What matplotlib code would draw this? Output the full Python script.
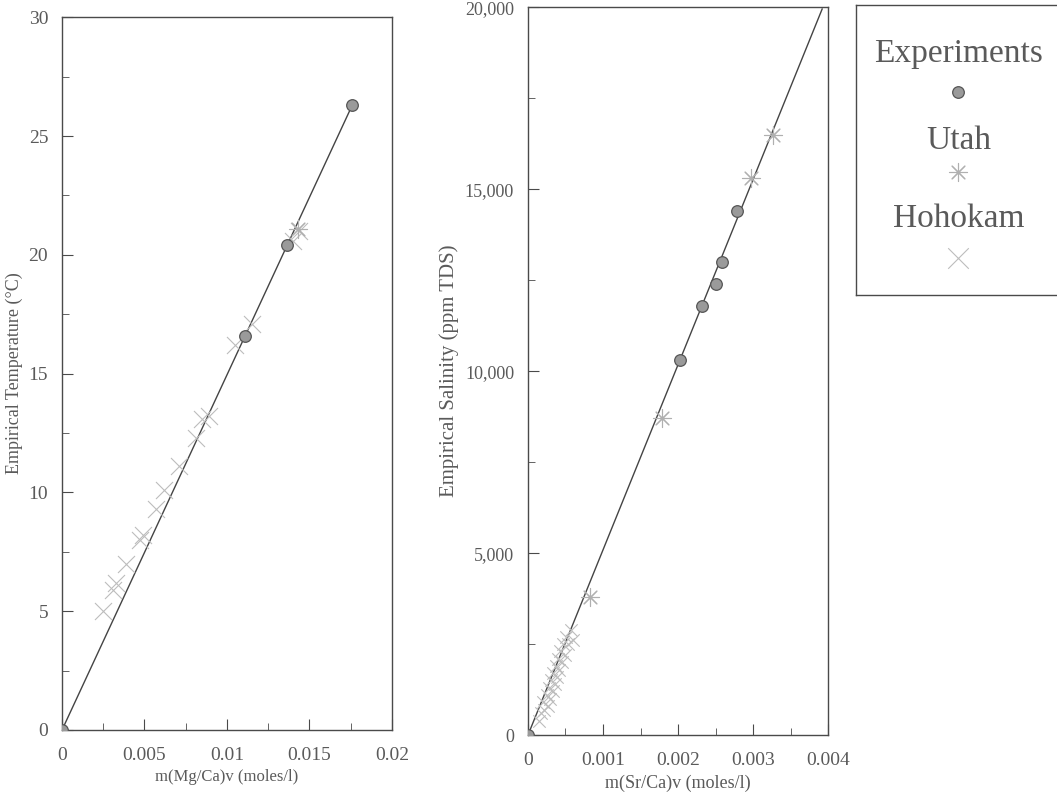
import matplotlib.pyplot as plt
import matplotlib.ticker as mticker

plt.rcParams['font.family'] = ['Liberation Serif', 'DejaVu Serif']

# --- Dados: painel esquerdo (Mg/Ca vs temperatura) ---
exp_mg_x = [0.0, 0.0111, 0.01365, 0.0176]
exp_mg_y = [0.0, 16.6, 20.4, 26.3]
utah_mg_x = [0.0143]
utah_mg_y = [21.1]
hoh_mg_x = [0.0025, 0.0031, 0.0033, 0.0039, 0.0047, 0.0049, 0.0057, 0.0062,
            0.0071, 0.0081, 0.0085, 0.0089, 0.0105, 0.0115, 0.0140, 0.0144]
hoh_mg_y = [5.0, 5.9, 6.2, 7.0, 8.0, 8.2, 9.3, 10.1,
            11.1, 12.3, 13.1, 13.2, 16.2, 17.1, 20.6, 21.0]
fit_mg_x = [0.0, 0.0176]
fit_mg_y = [0.0, 26.3]

# --- Dados: painel direito (Sr/Ca vs salinidade) ---
exp_sr_x = [0.0, 0.00203, 0.00232, 0.0025, 0.00259, 0.00278]
exp_sr_y = [0.0, 10300, 11800, 12400, 13000, 14400]
utah_sr_x = [0.00082, 0.00178, 0.00297, 0.00327]
utah_sr_y = [3800, 8700, 15300, 16500]
hoh_sr_x = [0.00015, 0.00018, 0.00020, 0.00022, 0.00025, 0.00027, 0.00028,
            0.00030, 0.00031, 0.00033, 0.00034, 0.00036, 0.00037, 0.00039,
            0.00040, 0.00042, 0.00043, 0.00045, 0.00047, 0.00049, 0.00051,
            0.00054, 0.00058, 0.00060]
hoh_sr_y = [400, 600, 900, 700, 1100, 800, 1300,
            1000, 1500, 1200, 1700, 1400, 1900, 1600,
            2100, 1800, 2300, 2000, 2500, 2200, 2700,
            2500, 2900, 2600]
fit_sr_x = [0.0, 0.00392]
fit_sr_y = [0.0, 19950]

CINZA_TXT = '#5a5a5a'
CINZA_EIXO = '#4a4a4a'
ASTERISCO = (8, 2, 0)

fig = plt.figure(figsize=(10.57, 7.99), dpi=100)
ax1 = fig.add_axes([0.0587, 0.0864, 0.312, 0.892])
ax2 = fig.add_axes([0.4995, 0.080, 0.284, 0.911])
axl = fig.add_axes([0.810, 0.631, 0.200, 0.363])


def estilo(ax):
    for s in ax.spines.values():
        s.set_color(CINZA_EIXO)
        s.set_linewidth(1.0)
    ax.tick_params(which='both', direction='in', colors=CINZA_EIXO,
                   labelcolor=CINZA_TXT, labelsize=14, pad=10)
    ax.tick_params(which='major', length=8)
    ax.tick_params(which='minor', length=5)
    ax.tick_params(axis='x', pad=12)


def desenha(ax, ex, ey, ux, uy, hx, hy, fx, fy, tam_x):
    ax.plot(fx, fy, color='#444444', lw=1.0, zorder=2)
    ax.scatter(hx, hy, marker='x', s=tam_x, color='#bdbdbd', linewidths=0.8, zorder=3)
    ax.scatter(ux, uy, marker=ASTERISCO, s=170, color='#b0b0b0', linewidths=0.8, zorder=3)
    ax.scatter(ex, ey, marker='o', s=70, color='#9a9a9a', edgecolors='#555555',
               linewidths=0.9, zorder=4)


desenha(ax1, exp_mg_x, exp_mg_y, utah_mg_x, utah_mg_y, hoh_mg_x, hoh_mg_y,
        fit_mg_x, fit_mg_y, 150)
ax1.set_xlim(0, 0.02)
ax1.set_ylim(0, 30)
ax1.xaxis.set_major_locator(mticker.MultipleLocator(0.005))
ax1.xaxis.set_minor_locator(mticker.MultipleLocator(0.0025))
ax1.yaxis.set_major_locator(mticker.MultipleLocator(5))
ax1.yaxis.set_minor_locator(mticker.MultipleLocator(2.5))
ax1.xaxis.set_major_formatter(mticker.FuncFormatter(lambda v, p: f'{v:g}'))
estilo(ax1)
ax1.set_xlabel('m(Mg/Ca)v (moles/l)', fontsize=12, color=CINZA_TXT, labelpad=4)
ax1.set_ylabel('Empirical Temperature (°C)', fontsize=13, color=CINZA_TXT, labelpad=4)

desenha(ax2, exp_sr_x, exp_sr_y, utah_sr_x, utah_sr_y, hoh_sr_x, hoh_sr_y,
        fit_sr_x, fit_sr_y, 80)
ax2.set_xlim(0, 0.004)
ax2.set_ylim(0, 20000)
ax2.xaxis.set_major_locator(mticker.MultipleLocator(0.001))
ax2.xaxis.set_minor_locator(mticker.MultipleLocator(0.0005))
ax2.yaxis.set_major_locator(mticker.MultipleLocator(5000))
ax2.yaxis.set_minor_locator(mticker.MultipleLocator(2500))
ax2.xaxis.set_major_formatter(mticker.FuncFormatter(lambda v, p: f'{v:g}'))
ax2.yaxis.set_major_formatter(mticker.FuncFormatter(lambda v, p: f'{v:,.0f}'))
estilo(ax2)
ax2.tick_params(axis='y', labelsize=13)
ax2.set_xlabel('m(Sr/Ca)v (moles/l)', fontsize=13, color=CINZA_TXT, labelpad=4)
ax2.set_ylabel('Empirical Salinity (ppm TDS)', fontsize=15, color=CINZA_TXT, labelpad=4)

# --- Legenda em caixa separada ---
axl.set_xlim(0, 1)
axl.set_ylim(0, 1)
axl.set_xticks([])
axl.set_yticks([])
for s in axl.spines.values():
    s.set_color(CINZA_EIXO)
    s.set_linewidth(1.0)
nomes = ['Experiments', 'Utah', 'Hohokam']
pos_txt = [0.830, 0.530, 0.262]
pos_mk = [0.700, 0.424, 0.128]
estilos = [dict(marker='o', s=70, color='#9a9a9a', edgecolors='#555555', linewidths=0.9),
           dict(marker=ASTERISCO, s=170, color='#b0b0b0', linewidths=0.8),
           dict(marker='x', s=220, color='#bdbdbd', linewidths=0.8)]
for nome, yt, ym, st in zip(nomes, pos_txt, pos_mk, estilos):
    axl.text(0.483, yt, nome, ha='center', va='center', fontsize=24, color=CINZA_TXT)
    axl.scatter([0.483], [ym], **st)

fig.savefig('out.png', dpi=100)
